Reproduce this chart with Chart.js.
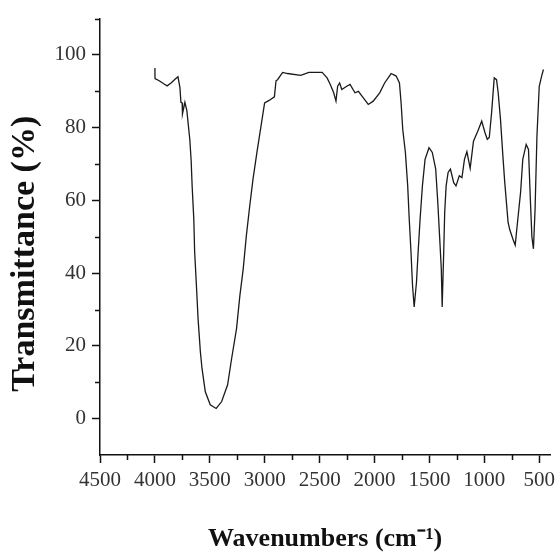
<!DOCTYPE html>
<html lang="en">
<head>
<meta charset="UTF-8">
<title>FTIR spectrum</title>
<script src="https://cdn.jsdelivr.net/npm/chart.js@4.4.0/dist/chart.umd.min.js"></script>
<style>
  body { margin: 0; background: #fff; }
  canvas { display: block; }
</style>
</head>
<body>
<canvas id="irChart" width="560" height="556"></canvas>
<script>
  // wavenumber (cm-1) / transmittance (%)
  const wavenumbers = [
    4000, 3999, 3961, 3916, 3889, 3853, 3817, 3790, 3772, 3763, 3752, 3749, 3727, 3709,
    3682, 3670, 3661, 3646, 3638, 3622, 3607, 3586, 3571, 3541, 3496, 3442, 3392, 3338,
    3302, 3257, 3226, 3196, 3167, 3136, 3107, 3071, 3001, 2960, 2912, 2897, 2883, 2837,
    2792, 2672, 2598, 2477, 2432, 2403, 2372, 2351, 2336, 2318, 2298, 2253, 2223, 2178,
    2147, 2102, 2057, 2012, 1953, 1908, 1849, 1803, 1773, 1758, 1743, 1719, 1698, 1684,
    1668, 1654, 1639, 1618, 1603, 1585, 1564, 1540, 1504, 1474, 1443, 1424, 1408, 1392,
    1384, 1370, 1361, 1348, 1330, 1309, 1279, 1258, 1228, 1204, 1181, 1159, 1129, 1099,
    1060, 1024, 994, 973, 955, 934, 910, 889, 874, 853, 829, 814, 784, 769, 740, 719,
    695, 670, 650, 619, 598, 580, 567, 553, 538, 521, 500, 479, 462
  ];
  const transmittance = [
    96.4, 93.5, 92.9, 92.0, 91.5, 92.3, 93.3, 94.0, 91.0, 87.0, 86.8, 83.8, 87.0, 84.7,
    76.7, 71.0, 64.0, 55.0, 45.8, 36.6, 27.5, 18.4, 13.8, 7.4, 3.8, 2.8, 4.7, 9.3,
    16.4, 24.7, 33.9, 41.1, 50.4, 58.6, 65.8, 73.2, 86.8, 87.5, 88.5, 92.9, 93.2, 95.2,
    94.9, 94.4, 95.2, 95.2, 93.7, 91.9, 89.6, 87.3, 91.4, 92.3, 90.5, 91.4, 91.9, 89.6,
    90.0, 88.2, 86.4, 87.3, 89.6, 92.3, 94.9, 94.2, 92.3, 86.8, 79.5, 73.2, 64.0, 54.9,
    45.8, 36.6, 30.7, 37.5, 45.8, 54.9, 64.0, 71.3, 74.5, 73.2, 68.6, 59.5, 50.4, 41.2,
    30.7, 45.8, 56.7, 64.0, 67.7, 68.6, 64.9, 64.0, 66.8, 66.3, 71.3, 73.4, 68.8, 76.3,
    79.0, 81.8, 78.6, 76.8, 77.3, 84.1, 93.7, 93.2, 89.6, 82.3, 71.3, 64.9, 54.0, 52.0, 49.4, 47.7,
    54.9, 62.2, 71.3, 75.4, 74.0, 59.5, 50.0, 46.7, 57.6, 77.7, 91.4, 94.1, 96.0
  ];

  const xTicks = [4500, 4000, 3500, 3000, 2500, 2000, 1500, 1000, 500];
  const xMinorTicks = [4250, 3750, 3250, 2750, 2250, 1750, 1250, 750];
  const yTicks = [0, 20, 40, 60, 80, 100];
  const yMinorTicks = [10, 30, 50, 70, 90, 110];

  const points = wavenumbers.map((w, i) => ({ x: w, y: transmittance[i] }));

  // Chart.js has no minor ticks, draw the short ones here
  const minorTicks = {
    id: 'minorTicks',
    afterDraw(chart) {
      const { ctx, scales: { x, y } } = chart;
      ctx.save();
      ctx.strokeStyle = '#111';
      ctx.lineWidth = 1.5;
      ctx.beginPath();
      xMinorTicks.forEach(v => {
        const px = Math.round(x.getPixelForValue(v)) + 0.5;
        ctx.moveTo(px, y.bottom);
        ctx.lineTo(px, y.bottom + 5);
      });
      yMinorTicks.forEach(v => {
        const py = Math.round(y.getPixelForValue(v)) + 0.5;
        ctx.moveTo(x.left, py);
        ctx.lineTo(x.left - 5, py);
      });
      ctx.stroke();
      ctx.restore();
    }
  };

  const tickFont = { family: '"Liberation Serif", serif', size: 21 };

  new Chart(document.getElementById('irChart'), {
    type: 'scatter',
    data: {
      datasets: [{
        data: points,
        showLine: true,
        borderColor: '#1a1a1a',
        borderWidth: 1.3,
        pointRadius: 0,
        tension: 0
      }]
    },
    options: {
      responsive: false,
      animation: false,
      layout: { padding: 0 },
      plugins: { legend: { display: false }, tooltip: { enabled: false } },
      scales: {
        x: {
          type: 'linear',
          reverse: true,
          min: 400,
          max: 4500,
          afterBuildTicks: s => { s.ticks = xTicks.map(v => ({ value: v })); },
          afterFit: s => { s.height = 101; },
          border: { display: true, color: '#111', width: 1.5 },
          grid: { drawOnChartArea: false, drawTicks: true, tickLength: 8, tickColor: '#111', tickWidth: 1.5 },
          ticks: { font: tickFont, color: '#333', padding: 5, maxRotation: 0, callback: v => String(v) },
          title: {
            display: true,
            text: 'Wavenumbers (cm\u207B\u00B9)',
            font: { family: '"Liberation Serif", serif', size: 26, weight: 'bold' },
            color: '#111',
            padding: { top: 0, bottom: 1 }
          }
        },
        y: {
          min: -10,
          max: 110,
          afterBuildTicks: s => { s.ticks = yTicks.map(v => ({ value: v })); },
          afterFit: s => { s.width = 100; },
          border: { display: true, color: '#111', width: 1.5 },
          grid: { drawOnChartArea: false, drawTicks: true, tickLength: 8, tickColor: '#111', tickWidth: 1.5 },
          ticks: { font: tickFont, color: '#333', padding: 6, callback: v => String(v) },
          title: {
            display: true,
            text: 'Transmittance (%)\u00A0\u00A0\u00A0\u00A0',
            font: { family: '"Liberation Serif", serif', size: 34, weight: 'bold' },
            color: '#111',
            padding: { top: 5, bottom: 0 }
          }
        }
      }
    },
    plugins: [minorTicks]
  });
</script>
</body>
</html>
